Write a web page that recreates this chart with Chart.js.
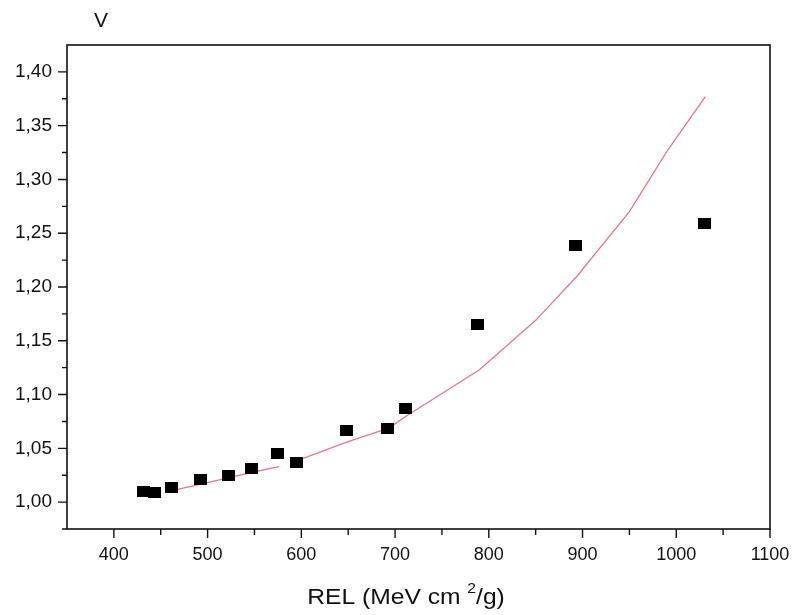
<!DOCTYPE html>
<html>
<head>
<meta charset="utf-8">
<title>V vs REL</title>
<script src="https://cdn.jsdelivr.net/npm/chart.js@4.4.1/dist/chart.umd.min.js"></script>
<style>
  html, body { margin: 0; padding: 0; background: #ffffff; }
  canvas { display: block; }
</style>
</head>
<body>
<canvas id="chart" width="792" height="615"></canvas>
<script>
// Measured points: restricted energy loss vs V
const relValues = [432, 443, 461, 492, 522, 547, 575, 595, 648, 692, 711, 788, 893, 1030];
const vValues   = [1.010, 1.009, 1.014, 1.021, 1.025, 1.031, 1.045, 1.037, 1.067, 1.068, 1.087, 1.165, 1.239, 1.259];

// Model curve (null leaves the small break in the trace)
const curveRel = [463, 494, 524, 549, 576, 586, 597, 649, 694, 712, 750, 790, 850, 894, 950, 990, 1031];
const curveV   = [1.011, 1.017, 1.023, 1.028, 1.033, null, 1.039, 1.056, 1.069, 1.080, 1.101, 1.123, 1.169, 1.210, 1.270, 1.326, 1.377];

// Axis ticks
const xTickValues = [400, 500, 600, 700, 800, 900, 1000, 1100];
const yTickValues = [1.00, 1.05, 1.10, 1.15, 1.20, 1.25, 1.30, 1.35, 1.40];

const FONT = "'Liberation Sans', Arial, sans-serif";

// solid black rectangular marker
const marker = document.createElement('canvas');
marker.width = 13; marker.height = 11;
(function () {
  const c = marker.getContext('2d');
  c.fillStyle = '#000';
  c.fillRect(0, 0, 13, 11);
})();

// frame around the plot, outward major/minor ticks and the axis captions
const framePlugin = {
  id: 'frameTicks',
  afterDraw(chart) {
    const { ctx, chartArea: a, scales: { x, y } } = chart;
    ctx.save();
    ctx.strokeStyle = '#111';
    ctx.lineWidth = 1.6;
    ctx.strokeRect(a.left, a.top, a.right - a.left, a.bottom - a.top);
    ctx.lineWidth = 1.4;
    ctx.beginPath();
    for (let i = 0; i < xTickValues.length; i++) {
      const px = x.getPixelForValue(xTickValues[i]);
      ctx.moveTo(px, a.bottom); ctx.lineTo(px, a.bottom + 9);
      const pm = x.getPixelForValue(xTickValues[i] - 50);
      if (pm > a.left + 1) { ctx.moveTo(pm, a.bottom); ctx.lineTo(pm, a.bottom + 6); }
    }
    for (let i = 0; i < yTickValues.length; i++) {
      const py = y.getPixelForValue(yTickValues[i]);
      ctx.moveTo(a.left, py); ctx.lineTo(a.left - 9, py);
      const pm = y.getPixelForValue(yTickValues[i] + 0.025);
      if (pm > a.top + 1) { ctx.moveTo(a.left, pm); ctx.lineTo(a.left - 5, pm); }
    }
    const p0 = y.getPixelForValue(0.975);
    ctx.moveTo(a.left, p0); ctx.lineTo(a.left - 5, p0);
    ctx.stroke();

    ctx.fillStyle = '#111';
    ctx.textBaseline = 'middle';

    // y-axis caption above the plot
    ctx.font = '21px ' + FONT;
    ctx.textAlign = 'center';
    ctx.fillText('V', a.left + 34, a.top - 24);

    // x-axis caption with superscript, slightly wide set
    const sx = 1.12;
    const main1 = 'REL (MeV cm ', sup = '2', main2 = '/g)';
    ctx.font = '22px ' + FONT;
    const w1 = ctx.measureText(main1).width;
    const w3 = ctx.measureText(main2).width;
    ctx.font = '14px ' + FONT;
    const w2 = ctx.measureText(sup).width;
    const total = (w1 + w2 + w3) * sx;
    const cx = 406, cy = 598;
    ctx.translate(cx - total / 2, cy);
    ctx.scale(sx, 1);
    ctx.textAlign = 'left';
    ctx.font = '22px ' + FONT;
    ctx.fillText(main1, 0, 0);
    ctx.font = '14px ' + FONT;
    ctx.fillText(sup, w1, -9);
    ctx.font = '22px ' + FONT;
    ctx.fillText(main2, w1 + w2, 0);
    ctx.restore();
  }
};

new Chart(document.getElementById('chart'), {
  type: 'scatter',
  data: {
    datasets: [
      {
        type: 'line',
        label: 'model',
        data: curveRel.map((r, i) => ({ x: r, y: curveV[i] })),
        borderColor: '#e3788c',
        borderWidth: 1.3,
        pointRadius: 0,
        tension: 0,
        spanGaps: false,
        fill: false,
        order: 2
      },
      {
        label: 'measured',
        data: relValues.map((r, i) => ({ x: r, y: vValues[i] })),
        pointStyle: marker,
        pointRadius: 6,
        order: 1
      }
    ]
  },
  options: {
    responsive: false,
    animation: false,
    devicePixelRatio: 1,
    layout: { padding: { top: 45, right: 22, left: 0, bottom: 0 } },
    plugins: { legend: { display: false }, tooltip: { enabled: false } },
    scales: {
      x: {
        type: 'linear',
        min: 350, max: 1100,
        afterBuildTicks: s => { s.ticks = xTickValues.map(v => ({ value: v })); },
        afterFit: s => { s.height = 86; s.paddingLeft = 0; s.paddingRight = 0; },
        grid: { display: false, drawTicks: false },
        border: { display: false },
        ticks: {
          color: '#111',
          font: { family: FONT, size: 18 },
          padding: 15,
          maxRotation: 0,
          callback: v => String(v)
        },
        title: { display: false }
      },
      y: {
        type: 'linear',
        min: 0.975, max: 1.425,
        afterBuildTicks: s => { s.ticks = yTickValues.map(v => ({ value: v })); },
        afterFit: s => { s.width = 67; s.paddingTop = 0; s.paddingBottom = 0; },
        grid: { display: false, drawTicks: false },
        border: { display: false },
        ticks: {
          color: '#111',
          font: { family: FONT, size: 19 },
          padding: 15,
          callback: v => v.toFixed(2).replace('.', ',')
        }
      }
    }
  },
  plugins: [framePlugin]
});
</script>
</body>
</html>
